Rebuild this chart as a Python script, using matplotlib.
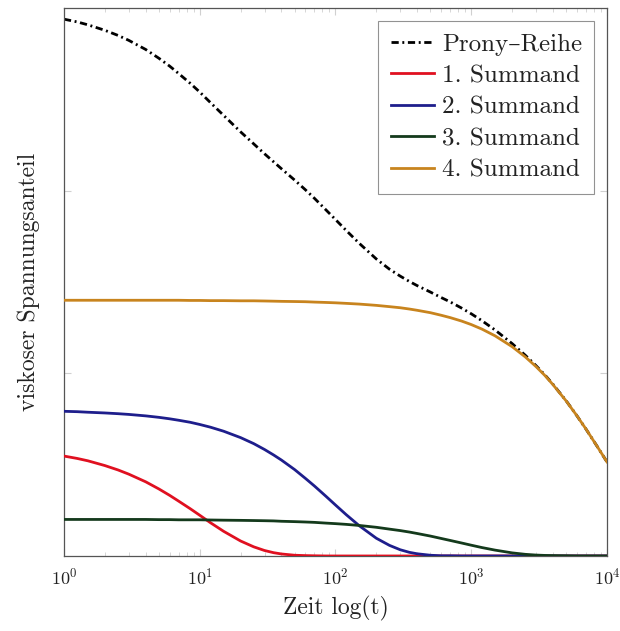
import numpy as np
import matplotlib
matplotlib.use("Agg")
import matplotlib.pyplot as plt
from matplotlib.ticker import LogLocator, LogFormatterMathtext, NullFormatter

plt.rcParams['font.family'] = ['cmr10', 'DejaVu Serif']
plt.rcParams['mathtext.fontset'] = 'cm'
plt.rcParams['axes.formatter.use_mathtext'] = True

# time values and the values
t = [1, 1.25, 1.5, 2, 2.5, 3, 4, 5, 6, 7, 8.5, 10, 12, 15, 20, 25, 30, 35, 40, 50,
     60, 70, 85, 100, 120, 150, 200, 250, 300, 350, 400, 500, 600, 700, 850, 1000,
     1200, 1500, 2000, 2500, 3000, 3500, 4000, 5000, 6000, 7000, 8500, 10000]

summand1 = [0.547, 0.534, 0.521, 0.495, 0.471, 0.448, 0.406, 0.367, 0.332, 0.300,
            0.259, 0.223, 0.182, 0.135, 0.082, 0.050, 0.030, 0.018, 0.011, 0.004,
            0.002, 0.001] + [0] * 26
summand2 = [0.792, 0.790, 0.787, 0.783, 0.779, 0.775, 0.767, 0.759, 0.751, 0.743,
            0.732, 0.720, 0.705, 0.683, 0.648, 0.615, 0.583, 0.553, 0.525, 0.473,
            0.425, 0.383, 0.327, 0.279, 0.226, 0.165, 0.097, 0.058, 0.034, 0.020,
            0.012, 0.004, 0.001, 0.001] + [0] * 14
summand3 = [0.200, 0.200, 0.200, 0.200, 0.200, 0.200, 0.200, 0.199, 0.199, 0.198,
            0.198, 0.198, 0.197, 0.196, 0.195, 0.194, 0.193, 0.192, 0.190, 0.188,
            0.186, 0.184, 0.180, 0.177, 0.173, 0.167, 0.157, 0.147, 0.139, 0.131,
            0.123, 0.109, 0.096, 0.085, 0.071, 0.059, 0.046, 0.032, 0.017, 0.009,
            0.005, 0.003, 0.002, 0.001, 0, 0, 0, 0]
summand4 = [1.400, 1.400, 1.400, 1.400, 1.400, 1.400, 1.400, 1.400, 1.400, 1.400,
            1.399, 1.399, 1.398, 1.398, 1.397, 1.397, 1.396, 1.395, 1.394, 1.393,
            1.392, 1.390, 1.388, 1.386, 1.383, 1.379, 1.372, 1.365, 1.359, 1.352,
            1.345, 1.332, 1.318, 1.305, 1.286, 1.267, 1.242, 1.205, 1.146, 1.090,
            1.037, 0.987, 0.938, 0.849, 0.768, 0.695, 0.598, 0.515]
prony = [2.939, 2.924, 2.908, 2.878, 2.850, 2.823, 2.773, 2.725, 2.682, 2.641,
         2.588, 2.540, 2.482, 2.412, 2.322, 2.256, 2.202, 2.158, 2.120, 2.058,
         2.005, 1.958, 1.895, 1.842, 1.782, 1.711, 1.626, 1.570, 1.532, 1.503,
         1.480, 1.445, 1.415, 1.391, 1.357, 1.326, 1.288, 1.237, 1.163, 1.099,
         1.042, 0.990, 0.940, 0.850, 0.768, 0.695, 0.598, 0.515]

fig = plt.figure(figsize=(6.2, 6.31), dpi=100)
ax = fig.add_axes([0.1032, 0.1189, 0.8758, 0.8684])

lw = 2.0
ax.plot(t, prony, color="black", lw=lw, linestyle=(0, (2.6, 1.3, 0.7, 1.3)),
        label="Prony–Reihe", zorder=2)
ax.plot(t, summand1, color="#e01020", lw=lw, label="1. Summand", zorder=3)
ax.plot(t, summand2, color="#1e1e8c", lw=lw, label="2. Summand", zorder=3)
ax.plot(t, summand3, color="#143a1c", lw=lw, label="3. Summand", zorder=3)
ax.plot(t, summand4, color="#c8841e", lw=lw, label="4. Summand", zorder=3)

ax.set_xscale("log")
ax.set_xlim(1, 1e4)
ax.set_ylim(0, 3)
ax.xaxis.set_major_locator(LogLocator(base=10, numticks=10))
ax.xaxis.set_major_formatter(LogFormatterMathtext())
ax.xaxis.set_minor_locator(LogLocator(base=10, subs=np.arange(2, 10), numticks=10))
ax.xaxis.set_minor_formatter(NullFormatter())
ax.set_yticks([1, 2])
ax.set_yticklabels([])
ax.tick_params(which="both", direction="in", top=True, right=True,
               color="#d0d0d0", labelsize=13)
ax.tick_params(which="major", length=5)
ax.tick_params(which="minor", length=3)
ax.tick_params(axis="x", pad=8, labelcolor="#222222")
for s in ax.spines.values():
    s.set_color("#555555")
    s.set_linewidth(0.9)

ax.set_xlabel("Zeit log(t)", fontsize=17, labelpad=6, color="#222222")
ax.set_ylabel("viskoser Spannungsanteil", fontsize=17, labelpad=14, color="#222222")

leg = ax.legend(loc="upper right", fontsize=18, frameon=True, fancybox=False,
                handlelength=1.75, handletextpad=0.3, borderpad=0.5,
                labelspacing=0.36, borderaxespad=0.5)
leg.get_frame().set_edgecolor("#777777")
leg.get_frame().set_linewidth(0.8)
for txt in leg.get_texts():
    txt.set_color("#222222")

fig.savefig("out.png", dpi=100)
